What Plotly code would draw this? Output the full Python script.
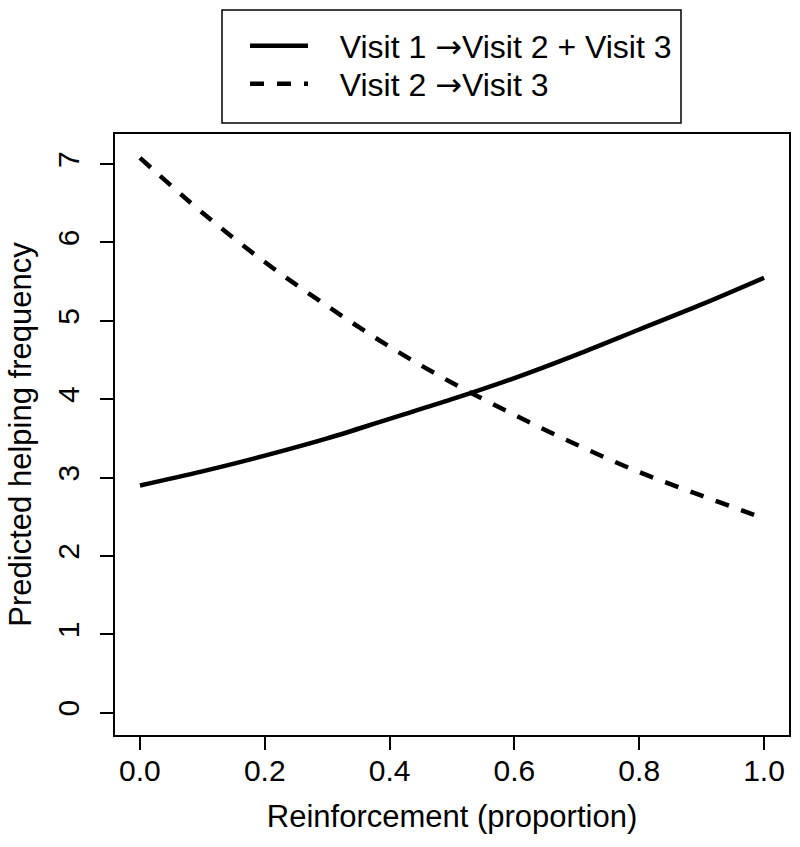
import plotly.graph_objects as go

reinforcement = [0.0, 0.1, 0.2, 0.3, 0.4, 0.5, 0.6, 0.7, 0.8, 0.9, 1.0]
visit1_to_23 = [2.90, 3.08, 3.28, 3.50, 3.75, 4.00, 4.27, 4.57, 4.89, 5.21, 5.55]
visit2_to_3 = [7.08, 6.38, 5.75, 5.19, 4.67, 4.21, 3.80, 3.42, 3.07, 2.77, 2.48]
ARROW = '<span style="font-family:DejaVu Sans">\u2192</span>'
series_names = ["\u00a0\u00a0\u00a0Visit 1 " + ARROW + "Visit 2 + Visit 3",
                "\u00a0\u00a0\u00a0Visit 2 " + ARROW + "Visit 3"]
x_ticks = [0.0, 0.2, 0.4, 0.6, 0.8, 1.0]
x_ticklabels = ["0.0", "0.2", "0.4", "0.6", "0.8", "1.0"]
y_ticks = [0, 1, 2, 3, 4, 5, 6, 7]

FONT = "Liberation Sans, Arial, sans-serif"
L, R, T, B = 115, 11, 134, 112
PW, PH = 800 - L - R, 847 - T - B

def px_x(p):
    return (p - L) / PW

def px_y(p):
    return (847 - B - p) / PH

fig = go.Figure()
fig.add_trace(go.Scatter(x=reinforcement, y=visit1_to_23, mode="lines", legend="legend",
                         name=series_names[0], line=dict(color="black", width=4.5, shape="spline")))
fig.add_trace(go.Scatter(x=reinforcement, y=visit2_to_3, mode="lines", legend="legend2",
                         name=series_names[1], line=dict(color="black", width=4.5, shape="spline", dash="14px,13px")))

axis_common = dict(showgrid=False, zeroline=False, showline=True, linecolor="black", linewidth=1.5,
                   mirror=True, ticks="outside", ticklen=13, tickwidth=1.5, tickcolor="black",
                   automargin=False,
                   tickfont=dict(family=FONT, size=30, color="black"))

leg_common = dict(xanchor="left", yanchor="middle", bgcolor="rgba(0,0,0,0)", borderwidth=0,
                  itemwidth=58, font=dict(family=FONT, size=32, color="black"))

fig.update_layout(
    width=800, height=847,
    margin=dict(l=L, r=R, t=T, b=B, autoexpand=False),
    paper_bgcolor="white", plot_bgcolor="white",
    xaxis=dict(range=[-0.04, 1.04], tickvals=x_ticks, ticktext=x_ticklabels, ticklabelstandoff=-5,
               title=dict(text="Reinforcement (proportion)", font=dict(family=FONT, size=31, color="black"), standoff=20),
               **axis_common),
    yaxis=dict(range=[-0.284, 7.384], tickvals=y_ticks, tickangle=-90, ticklabelstandoff=9,
               title=dict(text="Predicted helping frequency", font=dict(family=FONT, size=31, color="black"), standoff=11),
               **axis_common),
    showlegend=True,
    legend=dict(x=px_x(245), y=px_y(46), **leg_common),
    legend2=dict(x=px_x(245), y=px_y(84), **leg_common),
    shapes=[dict(type="rect", xref="paper", yref="paper",
                 x0=px_x(222), x1=px_x(681), y0=px_y(123), y1=px_y(10),
                 line=dict(color="black", width=1.5), fillcolor="rgba(0,0,0,0)")],
)

fig.write_html("out.html", config={"displayModeBar": False},
               post_script="document.body.style.margin='0px';")
